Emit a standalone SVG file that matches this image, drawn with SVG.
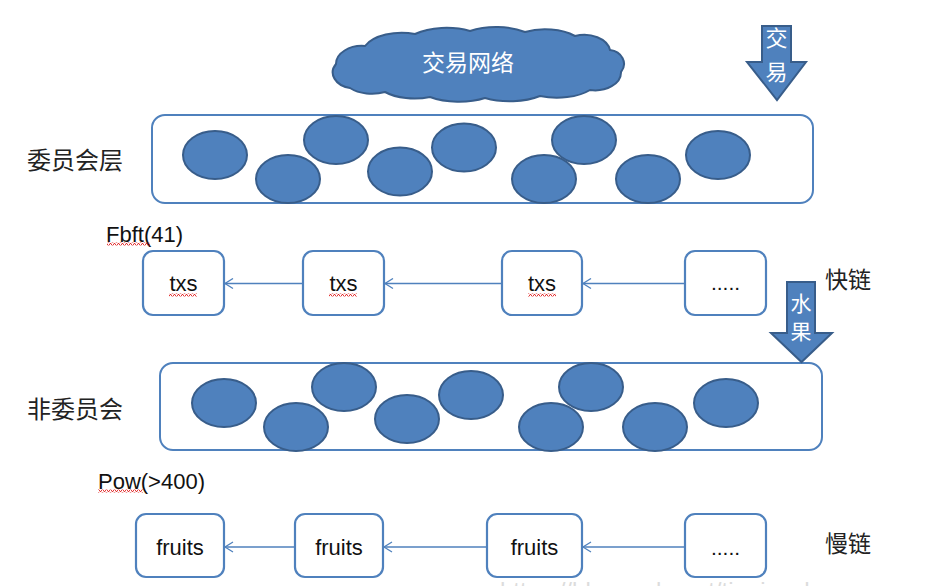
<svg xmlns="http://www.w3.org/2000/svg" width="931" height="586" viewBox="0 0 931 586">
<style>
.node{fill:#4F81BD;stroke:#385D8A;stroke-width:2}
.layer{fill:#ffffff;stroke:#4F81BD;stroke-width:2}
.blk{fill:#ffffff;stroke:#4F81BD;stroke-width:2.2}
.t{font-family:"Liberation Sans","Noto Sans CJK SC",sans-serif;fill:#111}
.cjk{font-family:"Noto Sans CJK SC","Liberation Sans",sans-serif;fill:#222}
.w{fill:#ffffff}
.link{stroke:#4F81BD;stroke-width:1.3;fill:none}
</style>
<defs>
<marker id="open" markerWidth="12" markerHeight="12" refX="10" refY="6" orient="auto" markerUnits="userSpaceOnUse">
<path d="M2,1 L10,6 L2,11" fill="none" stroke="#4F81BD" stroke-width="1.3"/>
</marker>
<pattern id="wavy" width="4" height="3" patternUnits="userSpaceOnUse">
<path d="M0,2.5 L1,2.5 L2,0.5 L3,0.5 L4,2.5" fill="none" stroke="#e02020" stroke-width="0.9"/>
</pattern>
</defs>
<rect width="931" height="586" fill="#ffffff"/>

<g id="cloud">
<path class="node" d="M350,88 A22,16 0 0,1 336,64 A26,18 0 0,1 365,46 A40,22 0 0,1 415,34 A45,22 0 0,1 470,31 A45,22 0 0,1 525,32 A42,22 0 0,1 575,36 A26,18 0 0,1 610,50 A16,14 0 0,1 621,72 A26,18 0 0,1 590,90 A42,20 0 0,1 540,96 A45,20 0 0,1 485,98 A45,20 0 0,1 430,97 A40,20 0 0,1 385,92 A30,18 0 0,1 350,88 Z"/>
<text class="cjk w" x="468" y="71" font-size="23" text-anchor="middle">交易网络</text>
</g>

<g id="arrow-tx">
<path class="node" d="M762,26 L791,26 L791,62 L806,62 L777,100 L747,62 L762,62 Z"/>
<text class="cjk w" x="776.5" y="46" font-size="22" text-anchor="middle">交</text>
<text class="cjk w" x="776.5" y="80" font-size="22" text-anchor="middle">易</text>
</g>

<g id="committee-label"><text class="cjk" x="27" y="169" font-size="24">委员会层</text></g>

<g id="committee">
<rect class="layer" x="152" y="115" width="661" height="88" rx="13"/>
<ellipse class="node" cx="215" cy="155" rx="32" ry="24"/>
<ellipse class="node" cx="288" cy="179" rx="32" ry="24"/>
<ellipse class="node" cx="336" cy="140" rx="32" ry="24"/>
<ellipse class="node" cx="400" cy="171.5" rx="32" ry="24"/>
<ellipse class="node" cx="464" cy="147.5" rx="32" ry="24"/>
<ellipse class="node" cx="544" cy="179" rx="32" ry="24"/>
<ellipse class="node" cx="584" cy="140" rx="32" ry="24"/>
<ellipse class="node" cx="648" cy="179" rx="32" ry="24"/>
<ellipse class="node" cx="718" cy="155" rx="32" ry="24"/>
</g>

<g id="fbft-label">
<text class="t" x="106" y="242" font-size="22">Fbft(41)</text>
<rect x="107" y="242.5" width="43" height="3" fill="url(#wavy)"/>
</g>

<g id="fast-chain-label"><text class="cjk" x="825" y="288" font-size="23">快链</text></g>

<g id="txs1">
<rect class="blk" x="143" y="251" width="81" height="64" rx="10"/>
<text class="t" x="183.5" y="291" font-size="22" text-anchor="middle">txs</text>
<rect x="169" y="293.5" width="28" height="3" fill="url(#wavy)"/>
</g>
<g id="txs2">
<rect class="blk" x="303" y="251" width="81" height="64" rx="10"/>
<text class="t" x="343.5" y="291" font-size="22" text-anchor="middle">txs</text>
<rect x="329" y="293.5" width="28" height="3" fill="url(#wavy)"/>
</g>
<g id="txs3">
<rect class="blk" x="502" y="251" width="80" height="64" rx="10"/>
<text class="t" x="542" y="291" font-size="22" text-anchor="middle">txs</text>
<rect x="528" y="293.5" width="28" height="3" fill="url(#wavy)"/>
</g>
<g id="txs4">
<rect class="blk" x="685" y="251" width="81" height="64" rx="10"/>
<text class="t" x="725.5" y="290" font-size="21" text-anchor="middle">.....</text>
</g>

<g id="noncommittee-label"><text class="cjk" x="27" y="418" font-size="24">非委员会</text></g>

<g id="noncommittee">
<rect class="layer" x="160" y="363" width="662" height="87" rx="13"/>
<ellipse class="node" cx="224" cy="403" rx="32" ry="24"/>
<ellipse class="node" cx="296" cy="427" rx="32" ry="24"/>
<ellipse class="node" cx="344" cy="387" rx="32" ry="24"/>
<ellipse class="node" cx="407" cy="419" rx="32" ry="24"/>
<ellipse class="node" cx="471" cy="395" rx="32" ry="24"/>
<ellipse class="node" cx="551" cy="427" rx="32" ry="24"/>
<ellipse class="node" cx="591" cy="387" rx="32" ry="24"/>
<ellipse class="node" cx="655" cy="427" rx="32" ry="24"/>
<ellipse class="node" cx="726" cy="403" rx="32" ry="24"/>
</g>

<g id="arrow-fruit">
<path class="node" d="M787,282 L815,282 L815,333 L832,333 L801.5,362 L771,333 L787,333 Z"/>
<text class="cjk w" x="801" y="311" font-size="21" text-anchor="middle">水</text>
<text class="cjk w" x="801" y="339" font-size="21" text-anchor="middle">果</text>
</g>

<g id="pow-label">
<text class="t" x="98" y="489" font-size="22">Pow(&gt;400)</text>
<rect x="98" y="489.5" width="45" height="3" fill="url(#wavy)"/>
</g>

<g id="slow-chain-label"><text class="cjk" x="825" y="552" font-size="23">慢链</text></g>

<g id="fruits1">
<rect class="blk" x="136" y="514" width="88" height="63" rx="10"/>
<text class="t" x="180" y="555" font-size="22" text-anchor="middle">fruits</text>
</g>
<g id="fruits2">
<rect class="blk" x="295" y="514" width="88" height="63" rx="10"/>
<text class="t" x="339" y="555" font-size="22" text-anchor="middle">fruits</text>
</g>
<g id="fruits3">
<rect class="blk" x="487" y="514" width="95" height="63" rx="10"/>
<text class="t" x="534.5" y="555" font-size="22" text-anchor="middle">fruits</text>
</g>
<g id="fruits4">
<rect class="blk" x="685" y="514" width="81" height="63" rx="10"/>
<text class="t" x="725.5" y="555" font-size="21" text-anchor="middle">.....</text>
</g>

<g id="connectors">
<line class="link" x1="303" y1="283.5" x2="225" y2="283.5" marker-end="url(#open)"/>
<line class="link" x1="502" y1="283.5" x2="385" y2="283.5" marker-end="url(#open)"/>
<line class="link" x1="685" y1="283.5" x2="583" y2="283.5" marker-end="url(#open)"/>
<line class="link" x1="295" y1="547" x2="225" y2="547" marker-end="url(#open)"/>
<line class="link" x1="487" y1="547" x2="384" y2="547" marker-end="url(#open)"/>
<line class="link" x1="685" y1="547" x2="583" y2="547" marker-end="url(#open)"/>
</g>

<text class="t" x="500" y="599" font-size="24" style="fill:#dcdcdc">https://blog.csdn.net/tianjuechao</text>
</svg>
